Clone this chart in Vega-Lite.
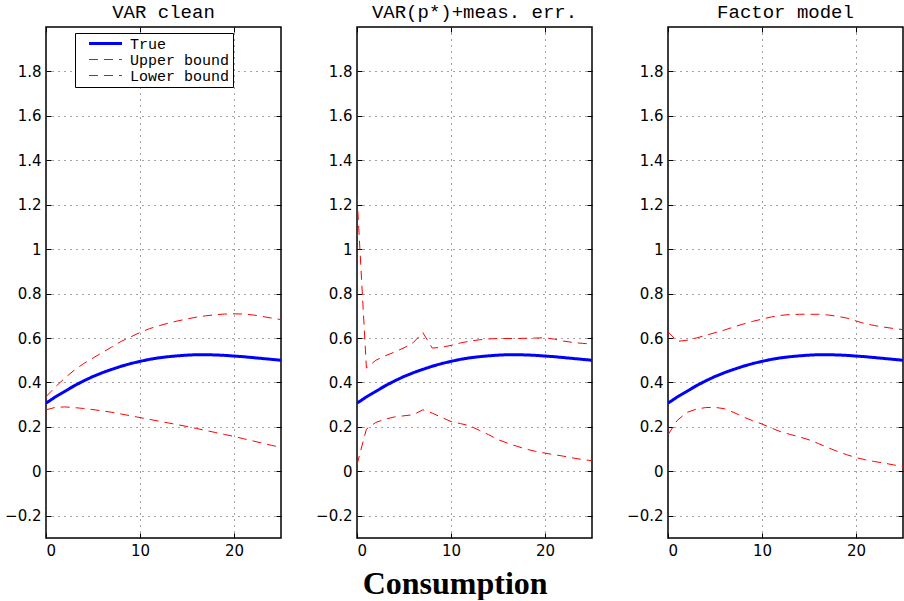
{
"$schema": "https://vega.github.io/schema/vega-lite/v6.json",
"background": "white",
"padding": {"left": 3, "top": 1, "right": 0, "bottom": 0},
"datasets": {"d": [
{"p":"A","h":0,"True":0.307,"Upper bound":0.336,"Lower bound":0.277},
{"p":"A","h":1,"True":0.335,"Upper bound":0.38,"Lower bound":0.288},
{"p":"A","h":2,"True":0.36,"Upper bound":0.42,"Lower bound":0.29},
{"p":"A","h":3,"True":0.385,"Upper bound":0.455,"Lower bound":0.287},
{"p":"A","h":4,"True":0.407,"Upper bound":0.485,"Lower bound":0.283},
{"p":"A","h":5,"True":0.427,"Upper bound":0.51,"Lower bound":0.278},
{"p":"A","h":6,"True":0.444,"Upper bound":0.535,"Lower bound":0.272},
{"p":"A","h":7,"True":0.459,"Upper bound":0.56,"Lower bound":0.266},
{"p":"A","h":8,"True":0.473,"Upper bound":0.585,"Lower bound":0.258},
{"p":"A","h":9,"True":0.485,"Upper bound":0.605,"Lower bound":0.25},
{"p":"A","h":10,"True":0.495,"Upper bound":0.625,"Lower bound":0.242},
{"p":"A","h":11,"True":0.504,"Upper bound":0.642,"Lower bound":0.234},
{"p":"A","h":12,"True":0.511,"Upper bound":0.655,"Lower bound":0.226},
{"p":"A","h":13,"True":0.516,"Upper bound":0.667,"Lower bound":0.218},
{"p":"A","h":14,"True":0.52,"Upper bound":0.677,"Lower bound":0.21},
{"p":"A","h":15,"True":0.523,"Upper bound":0.686,"Lower bound":0.202},
{"p":"A","h":16,"True":0.525,"Upper bound":0.694,"Lower bound":0.193},
{"p":"A","h":17,"True":0.525,"Upper bound":0.7,"Lower bound":0.184},
{"p":"A","h":18,"True":0.524,"Upper bound":0.705,"Lower bound":0.175},
{"p":"A","h":19,"True":0.522,"Upper bound":0.708,"Lower bound":0.166},
{"p":"A","h":20,"True":0.519,"Upper bound":0.709,"Lower bound":0.157},
{"p":"A","h":21,"True":0.516,"Upper bound":0.708,"Lower bound":0.147},
{"p":"A","h":22,"True":0.512,"Upper bound":0.704,"Lower bound":0.137},
{"p":"A","h":23,"True":0.508,"Upper bound":0.697,"Lower bound":0.127},
{"p":"A","h":24,"True":0.504,"Upper bound":0.69,"Lower bound":0.117},
{"p":"A","h":25,"True":0.5,"Upper bound":0.683,"Lower bound":0.108},
{"p":"B","h":0,"True":0.307,"Upper bound":1.24,"Lower bound":0.03},
{"p":"B","h":1,"True":0.335,"Upper bound":0.465,"Lower bound":0.19},
{"p":"B","h":2,"True":0.36,"Upper bound":0.5,"Lower bound":0.22},
{"p":"B","h":3,"True":0.385,"Upper bound":0.52,"Lower bound":0.235},
{"p":"B","h":4,"True":0.407,"Upper bound":0.537,"Lower bound":0.245},
{"p":"B","h":5,"True":0.427,"Upper bound":0.556,"Lower bound":0.25},
{"p":"B","h":6,"True":0.444,"Upper bound":0.58,"Lower bound":0.255},
{"p":"B","h":7,"True":0.459,"Upper bound":0.625,"Lower bound":0.277},
{"p":"B","h":8,"True":0.473,"Upper bound":0.555,"Lower bound":0.262},
{"p":"B","h":9,"True":0.485,"Upper bound":0.558,"Lower bound":0.243},
{"p":"B","h":10,"True":0.495,"Upper bound":0.567,"Lower bound":0.224},
{"p":"B","h":11,"True":0.504,"Upper bound":0.578,"Lower bound":0.215},
{"p":"B","h":12,"True":0.511,"Upper bound":0.586,"Lower bound":0.205},
{"p":"B","h":13,"True":0.516,"Upper bound":0.592,"Lower bound":0.185},
{"p":"B","h":14,"True":0.52,"Upper bound":0.596,"Lower bound":0.165},
{"p":"B","h":15,"True":0.523,"Upper bound":0.598,"Lower bound":0.143},
{"p":"B","h":16,"True":0.525,"Upper bound":0.598,"Lower bound":0.127},
{"p":"B","h":17,"True":0.525,"Upper bound":0.598,"Lower bound":0.113},
{"p":"B","h":18,"True":0.524,"Upper bound":0.599,"Lower bound":0.1},
{"p":"B","h":19,"True":0.522,"Upper bound":0.6,"Lower bound":0.09},
{"p":"B","h":20,"True":0.519,"Upper bound":0.601,"Lower bound":0.082},
{"p":"B","h":21,"True":0.516,"Upper bound":0.595,"Lower bound":0.075},
{"p":"B","h":22,"True":0.512,"Upper bound":0.586,"Lower bound":0.068},
{"p":"B","h":23,"True":0.508,"Upper bound":0.58,"Lower bound":0.06},
{"p":"B","h":24,"True":0.504,"Upper bound":0.576,"Lower bound":0.053},
{"p":"B","h":25,"True":0.5,"Upper bound":0.573,"Lower bound":0.048},
{"p":"C","h":0,"True":0.307,"Upper bound":0.628,"Lower bound":0.165},
{"p":"C","h":1,"True":0.335,"Upper bound":0.585,"Lower bound":0.23},
{"p":"C","h":2,"True":0.36,"Upper bound":0.59,"Lower bound":0.265},
{"p":"C","h":3,"True":0.385,"Upper bound":0.6,"Lower bound":0.28},
{"p":"C","h":4,"True":0.407,"Upper bound":0.612,"Lower bound":0.287},
{"p":"C","h":5,"True":0.427,"Upper bound":0.624,"Lower bound":0.288},
{"p":"C","h":6,"True":0.444,"Upper bound":0.636,"Lower bound":0.282},
{"p":"C","h":7,"True":0.459,"Upper bound":0.65,"Lower bound":0.265},
{"p":"C","h":8,"True":0.473,"Upper bound":0.663,"Lower bound":0.245},
{"p":"C","h":9,"True":0.485,"Upper bound":0.675,"Lower bound":0.228},
{"p":"C","h":10,"True":0.495,"Upper bound":0.685,"Lower bound":0.213},
{"p":"C","h":11,"True":0.504,"Upper bound":0.695,"Lower bound":0.195},
{"p":"C","h":12,"True":0.511,"Upper bound":0.702,"Lower bound":0.178},
{"p":"C","h":13,"True":0.516,"Upper bound":0.706,"Lower bound":0.166},
{"p":"C","h":14,"True":0.52,"Upper bound":0.707,"Lower bound":0.155},
{"p":"C","h":15,"True":0.523,"Upper bound":0.707,"Lower bound":0.142},
{"p":"C","h":16,"True":0.525,"Upper bound":0.707,"Lower bound":0.125},
{"p":"C","h":17,"True":0.525,"Upper bound":0.704,"Lower bound":0.107},
{"p":"C","h":18,"True":0.524,"Upper bound":0.698,"Lower bound":0.09},
{"p":"C","h":19,"True":0.522,"Upper bound":0.69,"Lower bound":0.075},
{"p":"C","h":20,"True":0.519,"Upper bound":0.677,"Lower bound":0.062},
{"p":"C","h":21,"True":0.516,"Upper bound":0.664,"Lower bound":0.052},
{"p":"C","h":22,"True":0.512,"Upper bound":0.656,"Lower bound":0.044},
{"p":"C","h":23,"True":0.508,"Upper bound":0.649,"Lower bound":0.037},
{"p":"C","h":24,"True":0.504,"Upper bound":0.643,"Lower bound":0.029},
{"p":"C","h":25,"True":0.5,"Upper bound":0.638,"Lower bound":0.022}
]},
"title": {"text": "Consumption", "orient": "bottom", "anchor": "middle", "font": "Liberation Serif", "fontSize": 32, "fontWeight": "bold", "color": "black", "offset": 10},
"spacing": 76,
"bounds": "flush",
"resolve": {"legend": {"color": "independent", "strokeDash": "independent", "strokeWidth": "independent"}},
"config": {
  "view": {"stroke": "black", "strokeWidth": 1.5},
  "title": {"font": "Liberation Mono", "fontSize": 19, "fontWeight": "normal", "color": "black", "offset": 5},
  "axis": {"labelFont": "DejaVu Sans", "labelFontSize": 15, "labelColor": "black", "domain": false, "tickColor": "black", "tickSize": -5, "tickWidth": 1, "grid": true, "gridColor": "#333", "gridDash": [1, 5], "gridWidth": 1, "gridOpacity": 0.9, "labelPadding": 10, "title": null, "format": "~r"},
  "legend": {"title": null, "orient": "none", "legendX": 29, "legendY": 6, "strokeColor": "black", "fillColor": "white", "padding": 3, "labelFont": "Liberation Mono", "labelFontSize": 15, "labelColor": "black", "symbolType": "M-3,0H3", "symbolSize": 121, "symbolOffset": 20, "rowPadding": 0, "labelOffset": 17, "labelExpr": "datum.label + '\u2002\u2002'"}
},
"hconcat": [
{
 "width": 235, "height": 511, "title": "VAR clean",
 "data": {"name": "d"},
 "transform": [{"filter": "datum.p == 'A'"}, {"fold": ["True", "Upper bound", "Lower bound"], "as": ["series", "value"]}],
 "layer": [
  {"mark": {"type": "line", "clip": true},
   "encoding": {
    "x": {"field": "h", "type": "quantitative", "scale": {"domain": [0, 25], "nice": false}, "axis": {"values": [0, 10, 20]}},
    "y": {"field": "value", "type": "quantitative", "scale": {"domain": [-0.3, 2.0], "nice": false, "zero": false}, "axis": {"values": [-0.2, 0, 0.2, 0.4, 0.6, 0.8, 1, 1.2, 1.4, 1.6, 1.8]}},
    "color": {"field": "series", "type": "nominal", "scale": {"domain": ["True", "Upper bound", "Lower bound"], "range": ["#0000ff", "#ff0000", "#ff0000"]}},
    "strokeDash": {"field": "series", "type": "nominal", "scale": {"domain": ["True", "Upper bound", "Lower bound"], "range": [[1, 0], [9, 6], [9, 6]]}},
    "strokeWidth": {"field": "series", "type": "nominal", "scale": {"type": "ordinal", "domain": ["True", "Upper bound", "Lower bound"], "range": [3, 1, 1]}}
   }},
  {"mark": {"type": "point", "opacity": 0},
   "encoding": {
    "x": {"field": "h", "type": "quantitative", "scale": {"domain": [0, 25], "nice": false}, "axis": {"orient": "top", "values": [0, 10, 20], "labels": false, "grid": false}},
    "y": {"field": "value", "type": "quantitative", "scale": {"domain": [-0.3, 2.0], "nice": false, "zero": false}, "axis": {"orient": "right", "values": [-0.2, 0, 0.2, 0.4, 0.6, 0.8, 1, 1.2, 1.4, 1.6, 1.8], "labels": false, "grid": false}}
   }}
 ],
 "resolve": {"axis": {"x": "independent", "y": "independent"}}
},
{
 "width": 235, "height": 511, "title": "VAR(p*)+meas. err.",
 "data": {"name": "d"},
 "transform": [{"filter": "datum.p == 'B'"}, {"fold": ["True", "Upper bound", "Lower bound"], "as": ["series", "value"]}],
 "layer": [
  {"mark": {"type": "line", "clip": true},
   "encoding": {
    "x": {"field": "h", "type": "quantitative", "scale": {"domain": [0, 25], "nice": false}, "axis": {"values": [0, 10, 20]}},
    "y": {"field": "value", "type": "quantitative", "scale": {"domain": [-0.3, 2.0], "nice": false, "zero": false}, "axis": {"values": [-0.2, 0, 0.2, 0.4, 0.6, 0.8, 1, 1.2, 1.4, 1.6, 1.8]}},
    "color": {"field": "series", "type": "nominal", "scale": {"domain": ["True", "Upper bound", "Lower bound"], "range": ["#0000ff", "#ff0000", "#ff0000"]}, "legend": null},
    "strokeDash": {"field": "series", "type": "nominal", "scale": {"domain": ["True", "Upper bound", "Lower bound"], "range": [[1, 0], [9, 6], [9, 6]]}, "legend": null},
    "strokeWidth": {"field": "series", "type": "nominal", "scale": {"type": "ordinal", "domain": ["True", "Upper bound", "Lower bound"], "range": [3, 1, 1]}, "legend": null}
   }},
  {"mark": {"type": "point", "opacity": 0},
   "encoding": {
    "x": {"field": "h", "type": "quantitative", "scale": {"domain": [0, 25], "nice": false}, "axis": {"orient": "top", "values": [0, 10, 20], "labels": false, "grid": false}},
    "y": {"field": "value", "type": "quantitative", "scale": {"domain": [-0.3, 2.0], "nice": false, "zero": false}, "axis": {"orient": "right", "values": [-0.2, 0, 0.2, 0.4, 0.6, 0.8, 1, 1.2, 1.4, 1.6, 1.8], "labels": false, "grid": false}}
   }}
 ],
 "resolve": {"axis": {"x": "independent", "y": "independent"}}
},
{
 "width": 235, "height": 511, "title": "Factor model",
 "data": {"name": "d"},
 "transform": [{"filter": "datum.p == 'C'"}, {"fold": ["True", "Upper bound", "Lower bound"], "as": ["series", "value"]}],
 "layer": [
  {"mark": {"type": "line", "clip": true},
   "encoding": {
    "x": {"field": "h", "type": "quantitative", "scale": {"domain": [0, 25], "nice": false}, "axis": {"values": [0, 10, 20]}},
    "y": {"field": "value", "type": "quantitative", "scale": {"domain": [-0.3, 2.0], "nice": false, "zero": false}, "axis": {"values": [-0.2, 0, 0.2, 0.4, 0.6, 0.8, 1, 1.2, 1.4, 1.6, 1.8]}},
    "color": {"field": "series", "type": "nominal", "scale": {"domain": ["True", "Upper bound", "Lower bound"], "range": ["#0000ff", "#ff0000", "#ff0000"]}, "legend": null},
    "strokeDash": {"field": "series", "type": "nominal", "scale": {"domain": ["True", "Upper bound", "Lower bound"], "range": [[1, 0], [9, 6], [9, 6]]}, "legend": null},
    "strokeWidth": {"field": "series", "type": "nominal", "scale": {"type": "ordinal", "domain": ["True", "Upper bound", "Lower bound"], "range": [3, 1, 1]}, "legend": null}
   }},
  {"mark": {"type": "point", "opacity": 0},
   "encoding": {
    "x": {"field": "h", "type": "quantitative", "scale": {"domain": [0, 25], "nice": false}, "axis": {"orient": "top", "values": [0, 10, 20], "labels": false, "grid": false}},
    "y": {"field": "value", "type": "quantitative", "scale": {"domain": [-0.3, 2.0], "nice": false, "zero": false}, "axis": {"orient": "right", "values": [-0.2, 0, 0.2, 0.4, 0.6, 0.8, 1, 1.2, 1.4, 1.6, 1.8], "labels": false, "grid": false}}
   }}
 ],
 "resolve": {"axis": {"x": "independent", "y": "independent"}}
}
]
}
